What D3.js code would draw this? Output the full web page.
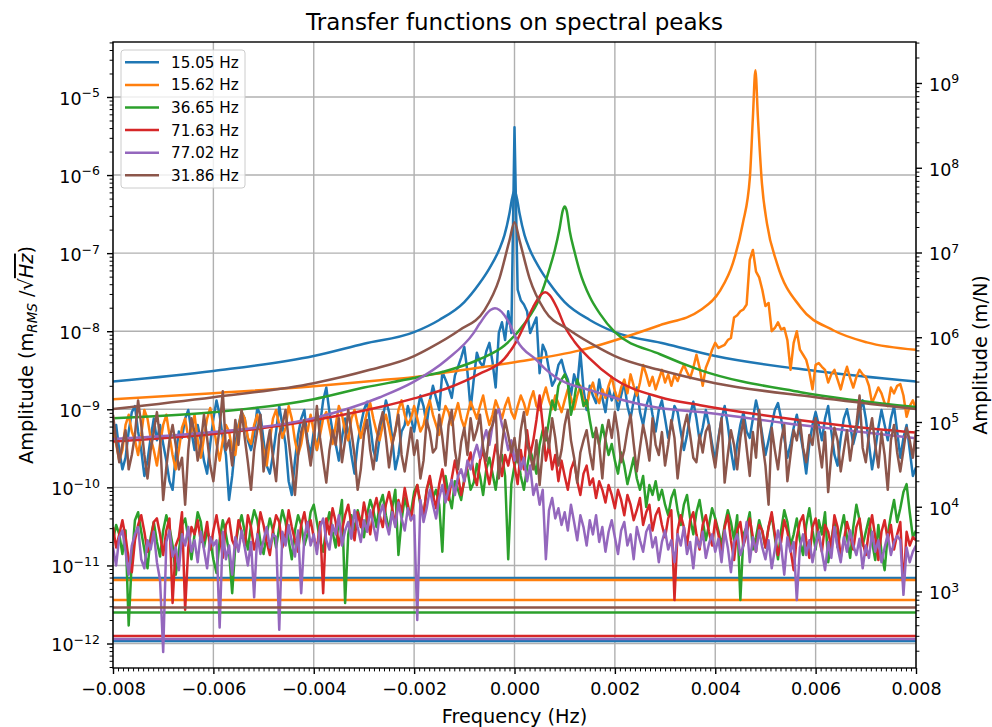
<!DOCTYPE html>
<html>
<head>
<meta charset="utf-8">
<script src="https://cdn.jsdelivr.net/npm/d3@7"></script>
<style>
  body { margin: 0; background: #fff; }
  text { font-family: "DejaVu Sans", sans-serif; fill: #000; }
</style>
</head>
<body>
<svg id="chart" width="992" height="727"></svg>
<script>
// ---------- data ----------
const seriesLabels = ["15.05 Hz", "15.62 Hz", "36.65 Hz", "71.63 Hz", "77.02 Hz", "31.86 Hz"];

// frequency bins of the measured spectra (Hz): 257 bins, 0.001 Hz per row below
const freqs = d3.range(257).map(i => (i - 128) * 6.25e-5);

// measured amplitude spectra (m_RMS / sqrt(Hz)), one value per bin
const specBlue = [
  4.0e-10, 6.3e-10, 3.0e-10, 1.7e-10, 2.4e-10, 5.2e-10, 9.2e-10, 1.1e-9, 5.2e-10, 3.0e-10, 1.4e-10, 2.2e-10, 4.3e-10, 7.6e-10, 4.0e-10, 6.3e-10,
  3.6e-10, 2.2e-10, 1.2e-10, 9.3e-11, 2.6e-10, 5.2e-10, 4.3e-10, 7.6e-10, 9.8e-10, 5.2e-10, 3.0e-10, 6.3e-10, 4.0e-10, 2.2e-10, 1.5e-10, 3.6e-10,
  7.6e-10, 1.3e-9, 8.5e-10, 4.3e-10, 2.6e-10, 6.9e-11, 1.4e-10, 3.6e-10, 6.3e-10, 9.2e-10, 7.6e-10, 4.0e-10, 3.0e-10, 4.7e-10, 1.04e-9, 8.5e-10,
  4.0e-10, 1.9e-10, 1.5e-10, 2.6e-10, 5.2e-10, 1.1e-9, 6.3e-10, 3.6e-10, 1.2e-10, 8.0e-11, 2.2e-10, 4.7e-10, 7.6e-10, 9.8e-10, 4.0e-10, 2.6e-10,
  5.2e-10, 3.0e-10, 6.3e-10, 1.3e-9, 1.9e-9, 9.2e-10, 5.2e-10, 3.6e-10, 2.2e-10, 4.3e-10, 7.6e-10, 5.2e-10, 2.6e-10, 1.5e-10, 3.6e-10, 6.3e-10,
  9.8e-10, 1.25e-9, 6.3e-10, 3.0e-10, 2.2e-10, 4.3e-10, 7.6e-10, 1.3e-9, 9.2e-10, 4.3e-10, 1.7e-10, 2.6e-10, 5.2e-10, 6.3e-10, 1.1e-9, 7.6e-10,
  5.2e-10, 9.2e-10, 1.5e-9, 1.1e-9, 6.3e-10, 1.3e-9, 2.0e-9, 1.4e-9, 9.8e-10, 3.0e-9, 2.4e-9, 1.9e-9, 1.4e-9, 2.7e-9, 3.5e-9, 4.6e-9,
  6.3e-9, 3.0e-9, 1.0e-9, 2.4e-9, 5.3e-9, 4.0e-9, 3.5e-9, 5.5e-9, 7.1e-9, 4.0e-9, 1.9e-9, 9.5e-9, 1.3e-8, 7.7e-9, 1.8e-8, 9.5e-9,
  4.1e-6, 3.4e-8, 2.5e-8, 2.2e-8, 1.8e-8, 9.5e-9, 1.2e-8, 1.5e-8, 2.9e-9, 6.7e-9, 5.4e-9, 3.2e-9, 2.0e-9, 2.4e-9, 3.7e-9, 4.3e-9,
  3.0e-9, 2.4e-9, 1.5e-9, 2.8e-9, 2.0e-9, 5.4e-9, 1.8e-9, 9.8e-10, 2.0e-9, 1.5e-9, 1.2e-9, 2.4e-9, 1.4e-9, 9.2e-10, 1.9e-9, 1.3e-9,
  1.7e-9, 9.8e-10, 1.5e-9, 2.2e-9, 1.1e-9, 7.6e-10, 1.3e-9, 1.9e-9, 9.2e-10, 6.3e-10, 1.1e-9, 1.5e-9, 8.5e-10, 5.2e-10, 9.8e-10, 1.3e-9,
  7.6e-10, 4.3e-10, 6.3e-10, 1.1e-9, 9.2e-10, 5.2e-10, 3.0e-10, 4.7e-10, 8.5e-10, 1.25e-9, 7.6e-10, 4.0e-10, 5.8e-10, 9.8e-10, 6.3e-10, 3.6e-10,
  2.2e-10, 4.3e-10, 7.6e-10, 1.1e-9, 6.3e-10, 3.0e-10, 1.7e-10, 3.6e-10, 6.3e-10, 9.2e-10, 5.2e-10, 4.3e-10, 7.6e-10, 1.3e-9, 8.5e-10, 4.7e-10,
  2.6e-10, 4.0e-10, 6.3e-10, 9.8e-10, 1.2e-9, 7.6e-10, 4.3e-10, 2.4e-10, 3.6e-10, 5.8e-10, 8.5e-10, 5.2e-10, 3.0e-10, 1.5e-10, 3.6e-10, 6.3e-10,
  9.2e-10, 6.3e-10, 4.0e-10, 7.6e-10, 1.1e-9, 5.2e-10, 2.6e-10, 1.9e-10, 4.3e-10, 7.6e-10, 1.0e-9, 6.3e-10, 3.6e-10, 5.2e-10, 9.2e-10, 1.3e-9,
  7.6e-10, 3.6e-10, 1.7e-10, 3.0e-10, 5.8e-10, 9.8e-10, 6.3e-10, 4.0e-10, 7.6e-10, 1.1e-9, 5.2e-10, 2.4e-10, 4.3e-10, 6.3e-10, 3.0e-10, 1.4e-10,
  1.8e-10
];
const specOrange = [
  5.4e-10, 3.6e-10, 2.2e-10, 3.0e-10, 6.3e-10, 8.5e-10, 5.2e-10, 4.0e-10, 2.6e-10, 4.7e-10, 9.8e-10, 7.6e-10, 4.3e-10, 3.0e-10, 1.9e-10, 3.6e-10,
  6.3e-10, 8.5e-10, 4.7e-10, 2.6e-10, 1.7e-10, 3.0e-10, 5.8e-10, 7.6e-10, 4.3e-10, 5.2e-10, 8.5e-10, 4.0e-10, 2.4e-10, 4.3e-10, 7.6e-10, 1.04e-9,
  6.3e-10, 3.6e-10, 2.2e-10, 4.0e-10, 6.3e-10, 5.2e-10, 3.0e-10, 2.6e-10, 5.8e-10, 9.2e-10, 7.6e-10, 4.3e-10, 3.6e-10, 6.3e-10, 8.5e-10, 5.2e-10,
  3.0e-10, 1.9e-10, 4.0e-10, 7.6e-10, 9.8e-10, 6.3e-10, 4.3e-10, 5.8e-10, 1.1e-9, 7.6e-10, 4.0e-10, 2.6e-10, 3.6e-10, 6.3e-10, 5.2e-10, 8.5e-10,
  5.2e-10, 3.0e-10, 4.7e-10, 7.6e-10, 9.2e-10, 5.8e-10, 3.6e-10, 6.3e-10, 1.1e-9, 8.5e-10, 5.2e-10, 4.0e-10, 7.6e-10, 9.8e-10, 6.3e-10, 4.3e-10,
  6.3e-10, 9.2e-10, 1.2e-9, 7.6e-10, 5.2e-10, 4.0e-10, 6.3e-10, 8.5e-10, 5.8e-10, 3.6e-10, 5.2e-10, 9.8e-10, 1.3e-9, 8.5e-10, 6.3e-10, 7.6e-10,
  1.1e-9, 7.6e-10, 5.2e-10, 6.3e-10, 9.8e-10, 1.3e-9, 8.5e-10, 6.3e-10, 4.7e-10, 7.6e-10, 1.1e-9, 9.2e-10, 6.3e-10, 8.5e-10, 1.2e-9, 7.6e-10,
  5.8e-10, 8.5e-10, 1.25e-9, 9.8e-10, 7.6e-10, 1.1e-9, 1.5e-9, 9.2e-10, 6.3e-10, 8.5e-10, 1.3e-9, 1.0e-9, 7.6e-10, 1.1e-9, 1.4e-9, 9.2e-10,
  7.6e-10, 1.1e-9, 1.5e-9, 1.2e-9, 8.5e-10, 1.3e-9, 1.7e-9, 1.1e-9, 9.8e-10, 1.4e-9, 1.9e-9, 1.3e-9, 1.0e-9, 1.5e-9, 1.2e-9, 9.2e-10,
  1.3e-9, 1.8e-9, 1.4e-9, 1.0e-9, 1.5e-9, 2.0e-9, 1.3e-9, 1.1e-9, 1.7e-9, 2.2e-9, 1.5e-9, 1.2e-9, 1.8e-9, 1.4e-9, 2.0e-9, 2.6e-9,
  1.7e-9, 1.3e-9, 1.9e-9, 2.4e-9, 1.6e-9, 2.8e-9, 2.0e-9, 1.5e-9, 2.2e-9, 3.7e-9, 2.8e-9, 2.0e-9, 2.6e-9, 1.8e-9, 2.4e-9, 3.2e-9,
  2.2e-9, 2.8e-9, 2.0e-9, 2.75e-9, 2.3e-9, 3.0e-9, 3.7e-9, 3.0e-9, 2.5e-9, 3.4e-9, 5.0e-9, 3.4e-9, 2.0e-9, 3.4e-9, 4.3e-9, 5.8e-9,
  7.1e-9, 6.1e-9, 6.4e-9, 6.7e-9, 7.7e-9, 8.2e-9, 1.5e-8, 1.6e-8, 1.8e-8, 1.9e-8, 2.2e-8, 8.2e-8, 1.1e-7, 5.8e-8, 4.9e-8, 3.4e-8,
  2.1e-8, 2.3e-8, 1.0e-8, 1.1e-8, 1.3e-8, 1.05e-8, 1.1e-8, 7.7e-9, 3.2e-9, 7.1e-9, 1.0e-8, 5.8e-9, 5.0e-9, 4.3e-9, 3.0e-9, 1.8e-9,
  3.7e-9, 3.9e-9, 3.5e-9, 3.2e-9, 2.2e-9, 2.8e-9, 3.2e-9, 2.4e-9, 1.8e-9, 2.6e-9, 3.5e-9, 2.5e-9, 1.9e-9, 2.6e-9, 3.2e-9, 2.8e-9,
  2.6e-9, 2.0e-9, 1.2e-9, 1.5e-9, 1.9e-9, 1.6e-9, 1.2e-9, 1.1e-9, 1.9e-9, 1.6e-9, 2.0e-9, 2.1e-9, 1.5e-9, 8.0e-10, 1.1e-9, 1.3e-9,
  1.0e-9
];
const specGreen = [
  2.1e-11, 3.3e-11, 2.5e-11, 1.4e-11, 2.8e-11, 1.7e-12, 1.2e-11, 3.8e-11, 4.8e-11, 2.7e-11, 1.6e-11, 9.2e-12, 2.3e-11, 3.6e-11, 2.0e-11, 1.3e-11,
  2.8e-11, 4.4e-11, 3.1e-11, 1.8e-11, 7.6e-12, 1.5e-11, 3.3e-11, 4.0e-11, 2.3e-11, 1.2e-11, 2.5e-11, 4.8e-11, 3.6e-11, 1.7e-11, 2.8e-11, 2.1e-11,
  1.2e-11, 8.0e-12, 2.1e-11, 3.8e-11, 2.5e-11, 1.5e-11, 4.4e-12, 1.8e-11, 3.1e-11, 4.4e-11, 2.7e-11, 1.6e-11, 3.3e-11, 5.1e-11, 3.8e-11, 2.0e-11,
  1.4e-11, 2.5e-11, 4.0e-11, 2.8e-11, 1.7e-11, 3.1e-11, 5.1e-11, 3.6e-11, 2.1e-11, 1.2e-11, 2.8e-11, 4.4e-11, 3.3e-11, 1.8e-11, 2.5e-11, 4.8e-11,
  6.0e-11, 3.6e-11, 2.1e-11, 1.5e-11, 3.1e-11, 4.8e-11, 2.7e-11, 1.7e-11, 3.8e-11, 6.9e-11, 3.3e-12, 2.5e-11, 4.4e-11, 2.8e-11, 5.1e-11, 3.6e-11,
  2.3e-11, 4.4e-11, 6.9e-11, 5.1e-11, 3.1e-11, 6.0e-11, 8.0e-11, 4.4e-11, 2.8e-11, 5.4e-11, 9.3e-11, 1.36e-11, 3.8e-11, 7.3e-11, 5.1e-11, 4.8e-11,
  8.7e-11, 1.07e-10, 6.0e-11, 4.4e-11, 9.3e-11, 1.3e-10, 7.3e-11, 9.3e-11, 6.0e-11, 1.5e-11, 1.4e-10, 8.0e-11, 5.4e-11, 1.2e-10, 9.3e-11, 6.9e-11,
  1.3e-10, 1.7e-10, 9.3e-11, 1.15e-10, 2.0e-10, 1.4e-10, 8.0e-11, 1.7e-10, 2.4e-10, 1.5e-10, 9.3e-11, 1.9e-10, 2.6e-10, 1.4e-10, 1.2e-11, 1.1e-10,
  1.9e-10, 2.6e-10, 1.4e-10, 9.3e-11, 1.8e-10, 3.0e-10, 2.2e-10, 1.5e-10, 3.5e-10, 5.4e-10, 4.0e-10, 7.3e-10, 1.3e-9, 9.8e-10, 2.0e-9, 2.4e-9,
  2.8e-9, 2.2e-9, 8.5e-10, 1.3e-9, 2.4e-9, 1.8e-9, 1.1e-9, 1.3e-9, 7.3e-10, 4.4e-10, 5.4e-10, 3.5e-10, 6.3e-10, 4.0e-10, 2.6e-10, 3.6e-10,
  2.2e-10, 1.5e-10, 2.8e-10, 1.9e-10, 1.1e-10, 1.6e-10, 2.4e-10, 1.3e-10, 9.3e-11, 1.4e-10, 5.6e-11, 1.07e-10, 8.0e-11, 1.2e-10, 6.9e-11, 9.3e-11,
  6.0e-11, 4.4e-11, 7.3e-11, 9.3e-11, 5.1e-11, 3.3e-11, 6.0e-11, 8.0e-11, 4.0e-11, 2.5e-11, 4.8e-11, 6.9e-11, 3.8e-11, 2.1e-11, 3.3e-11, 5.4e-11,
  4.0e-11, 2.8e-11, 1.8e-11, 3.3e-11, 5.1e-11, 3.6e-11, 2.1e-11, 4.4e-11, 3.6e-12, 2.5e-11, 3.1e-11, 4.8e-11, 1.6e-11, 2.3e-11, 3.8e-11, 2.7e-11,
  1.7e-11, 3.1e-11, 4.4e-11, 2.3e-11, 1.2e-11, 2.8e-11, 5.1e-11, 3.6e-11, 1.8e-11, 2.5e-11, 4.0e-11, 2.1e-11, 1.36e-11, 3.3e-11, 5.4e-11, 2.8e-11,
  1.6e-11, 3.8e-11, 2.5e-11, 4.8e-11, 1.1e-11, 2.1e-11, 3.6e-11, 1.7e-11, 2.8e-11, 4.4e-11, 2.3e-11, 1.25e-11, 3.1e-11, 6.0e-11, 3.8e-11, 1.8e-11,
  2.7e-11, 4.0e-11, 2.0e-11, 1.17e-11, 3.3e-11, 1.5e-11, 8.7e-12, 2.5e-11, 4.4e-11, 6.9e-11, 3.6e-11, 5.4e-11, 8.7e-11, 1.1e-10, 4.8e-11, 2.3e-11,
  2.8e-11
];
const specRed = [
  3.1e-11, 1.7e-11, 2.5e-11, 3.8e-11, 2.3e-11, 1.2e-11, 8.2e-12, 2.1e-11, 3.3e-11, 4.4e-11, 2.7e-11, 1.5e-11, 2.0e-11, 3.6e-11, 4.0e-11, 2.5e-11,
  1.36e-11, 2.8e-11, 4.0e-11, 3.3e-12, 1.8e-11, 2.3e-11, 4.8e-11, 2.7e-12, 1.7e-11, 3.1e-11, 2.5e-11, 3.8e-11, 2.0e-11, 2.1e-11, 3.6e-11, 1.6e-11,
  2.8e-11, 4.4e-11, 2.5e-11, 1.25e-11, 3.3e-11, 4.0e-11, 2.1e-11, 1.7e-11, 3.8e-11, 2.7e-11, 1.8e-11, 4.4e-11, 3.1e-11, 1.6e-11, 2.3e-11, 4.8e-11,
  3.3e-11, 2.0e-11, 1.36e-11, 2.8e-11, 4.4e-11, 3.6e-11, 1.7e-11, 2.5e-11, 5.1e-11, 3.1e-11, 2.1e-11, 1.5e-11, 3.3e-11, 4.8e-11, 2.7e-11, 3.8e-11,
  2.3e-11, 1.6e-11, 3.6e-11, 4.4e-12, 4.0e-11, 2.5e-11, 5.4e-11, 3.6e-11, 1.8e-11, 2.8e-11, 4.4e-11, 6.0e-11, 3.3e-11, 2.1e-11, 4.8e-11, 3.1e-11,
  6.4e-11, 4.0e-11, 2.5e-11, 5.1e-11, 7.3e-11, 4.4e-11, 3.1e-11, 6.0e-11, 8.7e-11, 5.4e-11, 3.3e-11, 6.9e-11, 4.8e-11, 9.8e-11, 6.0e-11, 3.8e-11,
  7.3e-11, 1.07e-10, 6.4e-11, 4.4e-11, 9.3e-11, 1.4e-10, 8.0e-11, 5.4e-11, 1.1e-10, 1.7e-10, 9.3e-11, 6.9e-11, 1.3e-10, 2.2e-10, 1.4e-10, 8.0e-11,
  1.2e-10, 1.9e-10, 2.8e-10, 1.5e-10, 1.07e-10, 2.2e-10, 3.0e-10, 1.7e-10, 1.1e-10, 2.0e-10, 3.5e-10, 2.4e-10, 1.4e-10, 2.6e-10, 1.9e-10, 3.0e-10,
  1.9e-10, 1.1e-10, 3.0e-10, 1.7e-10, 5.4e-10, 2.6e-10, 4.0e-10, 7.3e-10, 1.5e-9, 6.3e-10, 2.2e-10, 3.5e-10, 1.7e-10, 2.6e-10, 1.2e-10, 2.2e-10,
  1.4e-10, 9.3e-11, 1.7e-10, 2.2e-10, 1.2e-10, 8.0e-11, 1.5e-10, 1.9e-10, 1.07e-10, 1.3e-10, 7.3e-11, 1.2e-10, 9.3e-11, 6.4e-11, 1.07e-10, 8.0e-11,
  5.4e-11, 9.3e-11, 6.9e-11, 4.4e-11, 8.0e-11, 6.0e-11, 3.8e-11, 5.1e-11, 7.3e-11, 3.3e-11, 4.8e-11, 6.0e-11, 2.8e-11, 4.4e-11, 5.4e-11, 3.3e-11,
  2.3e-11, 4.0e-11, 5.1e-11, 3.6e-12, 2.8e-11, 4.4e-11, 3.1e-11, 1.8e-11, 3.8e-11, 4.8e-11, 2.5e-11, 1.6e-11, 3.3e-11, 4.4e-11, 2.7e-11, 1.8e-11,
  3.8e-11, 2.5e-11, 1.36e-11, 3.1e-11, 4.4e-11, 2.1e-11, 1.17e-11, 2.8e-11, 3.6e-11, 1.8e-11, 2.5e-11, 4.0e-11, 2.3e-11, 1.5e-11, 3.3e-11, 2.8e-11,
  1.7e-11, 3.1e-11, 4.8e-11, 2.5e-11, 1.36e-11, 2.0e-11, 3.8e-11, 2.7e-11, 1.6e-11, 8.7e-12, 2.3e-11, 3.6e-11, 4.4e-11, 2.1e-11, 1.25e-11, 3.1e-11,
  4.0e-11, 2.3e-11, 1.5e-11, 3.3e-11, 2.7e-11, 1.7e-11, 4.4e-11, 3.1e-11, 1.25e-11, 2.1e-11, 3.6e-11, 2.5e-11, 1.6e-11, 3.1e-11, 4.0e-11, 2.0e-11,
  1.36e-11, 2.8e-11, 4.4e-11, 2.3e-11, 1.17e-11, 2.7e-11, 3.8e-11, 2.1e-11, 3.3e-11, 1.6e-11, 2.5e-11, 3.6e-11, 5.2e-12, 2.7e-11, 1.8e-11, 2.3e-11,
  2.1e-11
];
const specPurple = [
  1.7e-11, 1.0e-11, 2.3e-11, 2.8e-11, 1.5e-11, 7.6e-12, 1.8e-11, 2.5e-11, 3.1e-11, 1.2e-11, 9.2e-12, 2.1e-11, 1.6e-11, 2.7e-11, 1.1e-11, 6.5e-12,
  7.8e-13, 2.0e-11, 2.8e-11, 1.3e-11, 1.7e-11, 8.7e-12, 2.5e-11, 1.8e-11, 3.1e-11, 1.5e-11, 2.1e-11, 1.1e-11, 2.7e-11, 1.6e-11, 9.2e-12, 2.3e-11,
  1.8e-11, 2.1e-11, 1.6e-12, 2.7e-11, 1.2e-11, 1.8e-11, 7.6e-12, 2.3e-11, 1.5e-11, 2.8e-11, 1.7e-11, 1.0e-11, 2.0e-11, 3.9e-12, 2.5e-11, 1.4e-11,
  2.1e-11, 3.1e-11, 1.7e-11, 2.5e-11, 2.3e-11, 1.5e-12, 2.7e-11, 1.8e-11, 3.3e-11, 2.0e-11, 1.3e-11, 2.8e-11, 4.4e-12, 2.3e-11, 3.6e-11, 1.8e-11,
  2.5e-11, 1.4e-11, 3.1e-11, 4.0e-11, 2.1e-11, 1.6e-11, 3.3e-11, 2.5e-11, 4.4e-11, 1.8e-11, 2.8e-11, 3.6e-11, 2.2e-11, 5.1e-11, 3.1e-11, 2.0e-11,
  3.8e-11, 2.7e-11, 5.1e-11, 3.3e-11, 2.1e-11, 4.4e-11, 6.0e-11, 3.6e-11, 2.5e-11, 4.8e-11, 3.1e-11, 6.4e-11, 4.0e-11, 2.8e-11, 5.4e-11, 3.8e-11,
  4.4e-11, 2.0e-12, 6.9e-11, 3.6e-11, 5.4e-11, 9.3e-11, 6.0e-11, 4.0e-11, 7.3e-11, 1.07e-10, 6.4e-11, 9.3e-11, 1.24e-10, 8.0e-11, 1.4e-10, 1.7e-10,
  1.2e-10, 2.2e-10, 1.7e-10, 2.6e-10, 3.5e-10, 2.4e-10, 4.0e-10, 5.4e-10, 3.5e-10, 6.3e-10, 8.5e-10, 1.0e-9, 6.3e-10, 4.7e-10, 3.0e-10, 4.0e-10,
  2.2e-10, 3.0e-10, 1.7e-10, 2.4e-10, 1.2e-10, 1.9e-10, 8.0e-11, 1.1e-10, 6.0e-11, 9.3e-11, 1.2e-11, 5.1e-11, 7.3e-11, 4.0e-11, 5.4e-11, 3.3e-11,
  4.8e-11, 2.8e-11, 6.0e-11, 3.6e-11, 2.1e-11, 4.4e-11, 3.1e-11, 1.8e-11, 3.8e-11, 2.5e-11, 4.4e-11, 2.0e-11, 3.1e-11, 1.5e-11, 2.7e-11, 3.8e-11,
  2.3e-11, 1.4e-11, 2.8e-11, 3.6e-11, 1.8e-11, 2.5e-11, 1.2e-11, 3.1e-11, 2.1e-11, 1.5e-11, 2.7e-11, 3.3e-11, 1.7e-11, 2.3e-11, 1.1e-11, 2.0e-11,
  2.8e-11, 1.6e-11, 2.1e-11, 1.1e-11, 2.5e-11, 1.8e-11, 3.1e-11, 1.4e-11, 2.0e-11, 9.2e-12, 2.3e-11, 1.7e-11, 2.7e-11, 1.25e-11, 1.9e-11, 2.5e-11,
  1.5e-11, 2.2e-11, 1.1e-11, 2.8e-11, 1.7e-11, 8.2e-12, 2.0e-11, 2.5e-11, 1.36e-11, 1.8e-11, 3.6e-11, 1.1e-11, 2.3e-11, 1.5e-11, 2.8e-11, 1.7e-11,
  1.2e-11, 2.1e-11, 9.2e-12, 1.6e-11, 2.8e-11, 1.8e-11, 7.6e-12, 2.3e-11, 1.5e-11, 2.0e-11, 3.6e-12, 1.7e-11, 2.5e-11, 1.36e-11, 2.1e-11, 1.1e-11,
  1.8e-11, 2.7e-11, 1.5e-11, 8.7e-12, 2.0e-11, 1.25e-11, 3.1e-11, 1.7e-11, 1.1e-11, 2.3e-11, 1.5e-11, 2.8e-11, 1.8e-11, 1.36e-11, 2.2e-11, 9.2e-12,
  1.8e-11, 1.25e-11, 2.7e-11, 1.5e-11, 2.1e-11, 1.1e-11, 1.7e-11, 2.5e-11, 1.36e-11, 2.0e-11, 2.4e-11, 2.1e-11, 4.2e-12, 1.7e-11, 1.1e-11, 1.5e-11,
  1.8e-11
];
const specBrown = [
  8.5e-10, 4.0e-10, 2.1e-10, 3.6e-10, 5.4e-10, 1.7e-10, 2.6e-10, 4.7e-10, 1.3e-9, 6.3e-10, 2.6e-10, 1.3e-10, 3.0e-10, 5.2e-10, 9.2e-10, 4.3e-10,
  6.9e-11, 1.8e-10, 4.0e-10, 6.3e-10, 3.5e-10, 1.7e-10, 2.4e-10, 6.0e-11, 3.0e-10, 7.7e-10, 5.1e-10, 2.2e-10, 3.6e-10, 8.5e-10, 4.3e-10, 1.9e-10,
  1.2e-10, 2.8e-10, 5.8e-10, 1.7e-9, 3.0e-10, 4.0e-10, 1.9e-10, 7.3e-10, 3.5e-10, 9.8e-10, 4.3e-10, 2.1e-10, 9.3e-11, 3.0e-10, 5.4e-10, 8.5e-10,
  1.6e-10, 3.2e-10, 5.4e-10, 2.4e-10, 1.2e-10, 4.7e-10, 6.3e-10, 9.8e-10, 4.0e-10, 1.8e-10, 8.0e-11, 2.6e-10, 5.1e-10, 7.3e-10, 3.6e-10, 1.9e-10,
  3.8e-10, 1.1e-9, 4.3e-10, 2.2e-10, 1.15e-10, 3.0e-10, 5.4e-10, 3.5e-10, 7.7e-10, 2.1e-10, 4.0e-10, 9.8e-10, 5.2e-10, 2.6e-10, 9.3e-11, 1.7e-10,
  4.7e-10, 7.3e-10, 3.0e-10, 1.7e-10, 3.8e-10, 6.3e-10, 9.2e-10, 4.3e-10, 1.8e-10, 3.5e-10, 5.4e-10, 8.5e-10, 2.6e-10, 1.6e-10, 3.0e-10, 5.8e-10,
  2.6e-10, 4.0e-10, 1.3e-10, 2.2e-10, 7.3e-10, 5.1e-10, 2.8e-10, 3.2e-10, 8.5e-10, 4.3e-10, 1.9e-10, 6.3e-10, 9.8e-10, 3.0e-10, 1.7e-10, 3.8e-10,
  5.8e-10, 2.6e-10, 7.7e-10, 4.0e-10, 5.4e-10, 8.5e-10, 3.2e-10, 2.2e-10, 5.1e-10, 6.3e-10, 9.8e-10, 1.3e-10, 3.5e-10, 7.3e-10, 4.7e-10, 2.8e-10,
  4.3e-10, 2.1e-10, 5.4e-10, 9.2e-10, 3.6e-10, 2.6e-10, 1.7e-10, 4.0e-10, 1.07e-10, 3.0e-10, 5.8e-10, 3.2e-10, 7.7e-10, 4.3e-10, 1.9e-10, 3.0e-10,
  6.3e-10, 9.8e-10, 4.0e-10, 2.4e-10, 1.15e-10, 2.8e-10, 4.0e-10, 5.4e-10, 2.8e-10, 1.7e-10, 5.8e-10, 3.5e-10, 1.3e-10, 4.3e-10, 7.3e-10, 4.3e-10,
  9.2e-10, 5.1e-10, 2.1e-10, 3.0e-10, 5.4e-10, 8.5e-10, 3.6e-10, 1.6e-10, 3.2e-10, 6.3e-10, 4.0e-10, 2.2e-10, 7.7e-10, 3.5e-10, 2.6e-10, 5.1e-10,
  1.9e-10, 3.5e-10, 7.3e-10, 4.3e-10, 1.3e-10, 3.0e-10, 5.8e-10, 8.5e-10, 4.7e-10, 2.4e-10, 2.1e-10, 4.7e-10, 2.8e-10, 5.2e-10, 6.3e-10, 3.0e-10,
  1.8e-10, 4.0e-10, 7.7e-10, 1.15e-10, 2.6e-10, 5.4e-10, 3.5e-10, 1.7e-10, 4.3e-10, 7.3e-10, 3.2e-10, 1.4e-10, 5.1e-10, 2.4e-10, 9.8e-10, 3.8e-10,
  1.9e-10, 6.0e-11, 5.8e-10, 3.0e-10, 1.7e-10, 4.0e-10, 6.3e-10, 1.2e-10, 2.6e-10, 5.4e-10, 4.0e-10, 7.3e-10, 3.2e-10, 2.1e-10, 4.7e-10, 3.5e-10,
  7.7e-10, 3.5e-10, 1.8e-10, 5.1e-10, 8.7e-11, 2.6e-10, 5.8e-10, 4.0e-10, 1.6e-10, 3.0e-10, 5.4e-10, 2.2e-10, 4.3e-10, 6.3e-10, 1.5e-9, 3.2e-10,
  2.1e-10, 4.7e-10, 7.7e-10, 3.5e-10, 1.8e-10, 5.1e-10, 2.6e-10, 9.3e-11, 4.0e-10, 6.3e-10, 2.8e-10, 1.6e-10, 3.0e-10, 5.8e-10, 4.0e-10, 2.4e-10,
  5.4e-10
];

// fitted transfer functions, [frequency (Hz), amplitude (m/N)]
const tfBlue = [
  [-0.008, 3.0e5], [-0.006, 4.0e5], [-0.004, 6.0e5], [-0.003, 8.4e5], [-0.002, 1.15e6],
  [-0.0015, 1.6e6], [-0.001, 2.6e6], [-0.0007, 4.3e6], [-0.0005, 6.5e6], [-0.0003, 1.1e7],
  [-0.0002, 1.6e7], [-0.0001, 2.9e7], [-0.00005, 4.3e7], [0, 5.4e7], [0.00005, 4.3e7],
  [0.0001, 2.9e7], [0.0002, 1.6e7], [0.0003, 1.1e7], [0.0005, 6.5e6], [0.0007, 4.3e6],
  [0.001, 2.6e6], [0.0015, 1.6e6], [0.002, 1.15e6], [0.003, 8.4e5], [0.004, 6.0e5],
  [0.006, 4.0e5], [0.008, 3.0e5]
];
const tfOrange = [
  [-0.008, 1.86e5], [-0.006, 2.19e5], [-0.004, 2.64e5], [-0.00268, 3.11e5], [-0.00202, 3.38e5],
  [-0.00134, 3.87e5], [0, 5.08e5], [0.0013, 7.0e5], [0.0029, 1.39e6], [0.0037, 2.08e6],
  [0.0041, 3.58e6], [0.00435, 7.45e6], [0.00455, 2.21e7], [0.00469, 7.7e7], [0.00475, 3.92e8],
  [0.0048, 1.41e9], [0.00485, 3.92e8], [0.00493, 6.54e7], [0.00503, 2.21e7], [0.00523, 7.45e6],
  [0.0057, 2.26e6], [0.00635, 1.21e6], [0.00702, 8.7e5], [0.008, 7.1e5]
];
const tfGreen = [
  [-0.008, 1.11e5], [-0.006, 1.3e5], [-0.004, 1.86e5], [-0.003, 2.55e5], [-0.002, 3.3e5],
  [-0.0013, 4.1e5], [-0.0007, 5.5e5], [-0.0002, 8.0e5], [0.0002, 1.45e6], [0.0005, 2.9e6],
  [0.0007, 6.5e6], [0.0008, 1.05e7], [0.0009, 1.95e7], [0.00096, 3.1e7], [0.001, 3.5e7],
  [0.00104, 3.1e7], [0.0011, 1.8e7], [0.0012, 1.0e7], [0.0013, 6.0e6], [0.0015, 3.0e6],
  [0.0017, 1.9e6], [0.002, 1.15e6], [0.0029, 6.3e5], [0.0037, 4.1e5], [0.0057, 2.25e5],
  [0.008, 1.5e5]
];
const tfRed = [
  [-0.008, 5.9e4], [-0.006, 7.2e4], [-0.004, 1.05e5], [-0.00268, 1.5e5], [-0.002, 1.9e5],
  [-0.00134, 2.5e5], [-0.0007, 3.7e5], [-0.0002, 5.6e5], [0.00005, 9.2e5], [0.0002, 1.4e6],
  [0.00037, 2.26e6], [0.00052, 3.15e6], [0.00061, 3.4e6], [0.0007, 3.15e6], [0.00085, 2.2e6],
  [0.001, 1.35e6], [0.0012, 8.8e5], [0.0015, 5.6e5], [0.00196, 3.3e5], [0.0029, 1.96e5],
  [0.0037, 1.58e5], [0.0057, 1.05e5], [0.007, 8.5e4], [0.008, 7.5e4]
];
const tfPurple = [
  [-0.008, 6.3e4], [-0.006, 7.6e4], [-0.004, 1.11e5], [-0.00268, 1.96e5], [-0.00202, 2.95e5],
  [-0.00134, 5.5e5], [-0.00082, 1.11e6], [-0.00069, 1.46e6], [-0.00048, 2.1e6], [-0.00039, 2.2e6],
  [-0.0003, 2.1e6], [-0.0001, 1.45e6], [0.00005, 9.2e5], [0.00045, 5.3e5], [0.0006, 4.3e5],
  [0.00104, 2.87e5], [0.0013, 2.58e5], [0.0017, 2.19e5], [0.00196, 1.96e5], [0.0029, 1.46e5],
  [0.0037, 1.31e5], [0.0057, 9.2e4], [0.008, 6.45e4]
];
const tfBrown = [
  [-0.008, 1.42e5], [-0.006, 1.96e5], [-0.004, 2.87e5], [-0.0029, 4.1e5], [-0.002, 6.0e5],
  [-0.0017, 7.4e5], [-0.0011, 1.21e6], [-0.0006, 2.08e6], [-0.0003, 4.96e6], [-0.0001, 1.39e7],
  [0, 2.27e7], [0.0001, 1.39e7], [0.0003, 4.96e6], [0.0006, 2.08e6], [0.0011, 1.21e6],
  [0.0017, 7.4e5], [0.002, 6.0e5], [0.0029, 4.1e5], [0.004, 2.87e5], [0.006, 1.96e5],
  [0.008, 1.42e5]
];

// noise-floor levels (m_RMS / sqrt(Hz))
const floorBlue = [6.9e-12, 1.08e-12];
const floorOrange = [6.5e-12, 3.6e-12];
const floorGreen = [2.5e-12];
const floorRed = [1.25e-12];
const floorPurple = [1.14e-12];
const floorBrown = [2.9e-12];

// axis ticks
const xTicks = [-0.008, -0.006, -0.004, -0.002, 0, 0.002, 0.004, 0.006, 0.008];
const leftExponents = [-12, -11, -10, -9, -8, -7, -6, -5];
const rightExponents = [3, 4, 5, 6, 7, 8, 9];

// ---------- styling ----------
const colors = ["#1f77b4", "#ff7f0e", "#2ca02c", "#d62728", "#9467bd", "#8c564b"];
const series = [
  { spec: specBlue,   tf: tfBlue,   floor: floorBlue },
  { spec: specOrange, tf: tfOrange, floor: floorOrange },
  { spec: specGreen,  tf: tfGreen,  floor: floorGreen },
  { spec: specRed,    tf: tfRed,    floor: floorRed },
  { spec: specPurple, tf: tfPurple, floor: floorPurple },
  { spec: specBrown,  tf: tfBrown,  floor: floorBrown }
];

const box = { left: 113, right: 916, top: 42, bottom: 668 };
const tickFont = 17.5, supFont = 12.5, labelFont = 19.3, titleFont = 23;
const lineW = 2.5;

const svg = d3.select("#chart");

const x = d3.scaleLinear().domain([-0.008, 0.008]).range([box.left, box.right]);
const yL = d3.scaleLog().domain([4.856e-13, 5.063e-5]).range([box.bottom, box.top]);
const yR = d3.scaleLog().domain([125.1, 3.047e9]).range([box.bottom, box.top]);

svg.append("defs").append("clipPath").attr("id", "plotClip")
  .append("rect")
  .attr("x", box.left).attr("y", box.top)
  .attr("width", box.right - box.left).attr("height", box.bottom - box.top);

// grid
const grid = svg.append("g").attr("stroke", "#b0b0b0").attr("stroke-width", 1.4);
grid.selectAll(".gx").data(xTicks).join("line")
  .attr("x1", d => x(d)).attr("x2", d => x(d))
  .attr("y1", box.top).attr("y2", box.bottom);
grid.selectAll(".gy").data(leftExponents).join("line")
  .attr("x1", box.left).attr("x2", box.right)
  .attr("y1", d => yL(Math.pow(10, d))).attr("y2", d => yL(Math.pow(10, d)));

// data
const plot = svg.append("g").attr("clip-path", "url(#plotClip)");
const specLine = d3.line().x((d, i) => x(freqs[i])).y(d => yL(d));
const tfLine = d3.line().x(d => x(d[0])).y(d => yR(d[1])).curve(d3.curveMonotoneX);

series.forEach((s, k) => {
  plot.append("path").attr("d", specLine(s.spec))
    .attr("fill", "none").attr("stroke", colors[k]).attr("stroke-width", lineW)
    .attr("stroke-linejoin", "round");
  plot.append("path").attr("d", tfLine(s.tf))
    .attr("fill", "none").attr("stroke", colors[k]).attr("stroke-width", lineW)
    .attr("stroke-linejoin", "round");
  s.floor.forEach(v => {
    plot.append("line")
      .attr("x1", box.left).attr("x2", box.right)
      .attr("y1", yL(v)).attr("y2", yL(v))
      .attr("stroke", colors[k]).attr("stroke-width", lineW);
  });
});

// minor tick positions for log axes
function logMinor(scale) {
  const [lo, hi] = scale.domain();
  const out = [];
  for (let e = Math.floor(Math.log10(lo)); e <= Math.ceil(Math.log10(hi)); e++) {
    for (let m = 2; m <= 9; m++) {
      const v = m * Math.pow(10, e);
      if (v >= lo && v <= hi) out.push(v);
    }
  }
  return out;
}

function styleAxis(g, width) {
  g.select(".domain").remove();
  g.selectAll(".tick line").attr("stroke", "#000").attr("stroke-width", width);
}

// x axis
const xMinor = d3.range(-80, 81).filter(i => i % 20 !== 0).map(i => i * 1e-4);
svg.append("g").attr("transform", `translate(0,${box.bottom})`)
  .call(d3.axisBottom(x).tickValues(xMinor).tickSize(3.4).tickFormat(""))
  .call(g => styleAxis(g, 1));
const gx = svg.append("g").attr("transform", `translate(0,${box.bottom})`)
  .call(d3.axisBottom(x).tickValues(xTicks).tickSize(6).tickPadding(8.5).tickFormat(d3.format(".3f")))
  .call(g => styleAxis(g, 1.4));
gx.selectAll(".tick text").attr("font-size", tickFont).attr("font-family", "DejaVu Sans").attr("fill", "#000");

// power-of-ten labels
function powerLabels(g, exps, anchor, dx) {
  g.selectAll(".tick").each(function (d, i) {
    const t = d3.select(this).append("text")
      .attr("x", dx).attr("dy", "0.42em")
      .attr("text-anchor", anchor)
      .attr("font-size", tickFont).attr("fill", "#000");
    t.append("tspan").text("10");
    const e = exps[i];
    t.append("tspan").attr("font-size", supFont).attr("dy", -7.5)
      .text((e < 0 ? "\u2212" : "") + Math.abs(e));
  });
}

// left axis
svg.append("g").attr("transform", `translate(${box.left},0)`)
  .call(d3.axisLeft(yL).tickValues(logMinor(yL)).tickSize(3.4).tickFormat(""))
  .call(g => styleAxis(g, 1));
svg.append("g").attr("transform", `translate(${box.left},0)`)
  .call(d3.axisLeft(yL).tickValues(leftExponents.map(e => Math.pow(10, e))).tickSize(6).tickFormat(""))
  .call(g => styleAxis(g, 1.4))
  .call(g => powerLabels(g, leftExponents, "end", -13));

// right axis
svg.append("g").attr("transform", `translate(${box.right},0)`)
  .call(d3.axisRight(yR).tickValues(logMinor(yR)).tickSize(3.4).tickFormat(""))
  .call(g => styleAxis(g, 1));
svg.append("g").attr("transform", `translate(${box.right},0)`)
  .call(d3.axisRight(yR).tickValues(rightExponents.map(e => Math.pow(10, e))).tickSize(6).tickFormat(""))
  .call(g => styleAxis(g, 1.4))
  .call(g => powerLabels(g, rightExponents, "start", 13));

// frame
svg.append("rect")
  .attr("x", box.left).attr("y", box.top)
  .attr("width", box.right - box.left).attr("height", box.bottom - box.top)
  .attr("fill", "none").attr("stroke", "#000").attr("stroke-width", 1.4);

// titles
svg.append("text").attr("x", (box.left + box.right) / 2).attr("y", 30)
  .attr("text-anchor", "middle").attr("font-size", titleFont)
  .text("Transfer functions on spectral peaks");
svg.append("text").attr("x", (box.left + box.right) / 2).attr("y", 723)
  .attr("text-anchor", "middle").attr("font-size", labelFont)
  .text("Frequency (Hz)");

const yl = svg.append("text")
  .attr("transform", `translate(33,${(box.top + box.bottom) / 2}) rotate(-90)`)
  .attr("text-anchor", "middle").attr("font-size", labelFont);
yl.append("tspan").text("Amplitude (m");
yl.append("tspan").attr("font-size", 13.5).attr("font-style", "italic").attr("dy", 4).text("RMS");
yl.append("tspan").attr("dy", -4).text(" /\u221A");
yl.append("tspan").attr("font-style", "italic").attr("text-decoration", "overline").text("Hz");
yl.append("tspan").text(")");

svg.append("text")
  .attr("transform", `translate(987,${(box.top + box.bottom) / 2}) rotate(-90)`)
  .attr("text-anchor", "middle").attr("font-size", labelFont)
  .text("Amplitude (m/N)");

// legend
const lg = svg.append("g");
lg.append("rect").attr("x", 121).attr("y", 50).attr("width", 124).attr("height", 138)
  .attr("rx", 3).attr("fill", "#fff").attr("fill-opacity", 0.8)
  .attr("stroke", "#cccccc").attr("stroke-width", 1);
seriesLabels.forEach((lab, k) => {
  const yy = 62.3 + k * 22.6;
  lg.append("line").attr("x1", 125).attr("x2", 159).attr("y1", yy).attr("y2", yy)
    .attr("stroke", colors[k]).attr("stroke-width", lineW);
  lg.append("text").attr("x", 171).attr("y", yy).attr("dy", "0.36em")
    .attr("font-size", 15.2).text(lab);
});
</script>
</body>
</html>
